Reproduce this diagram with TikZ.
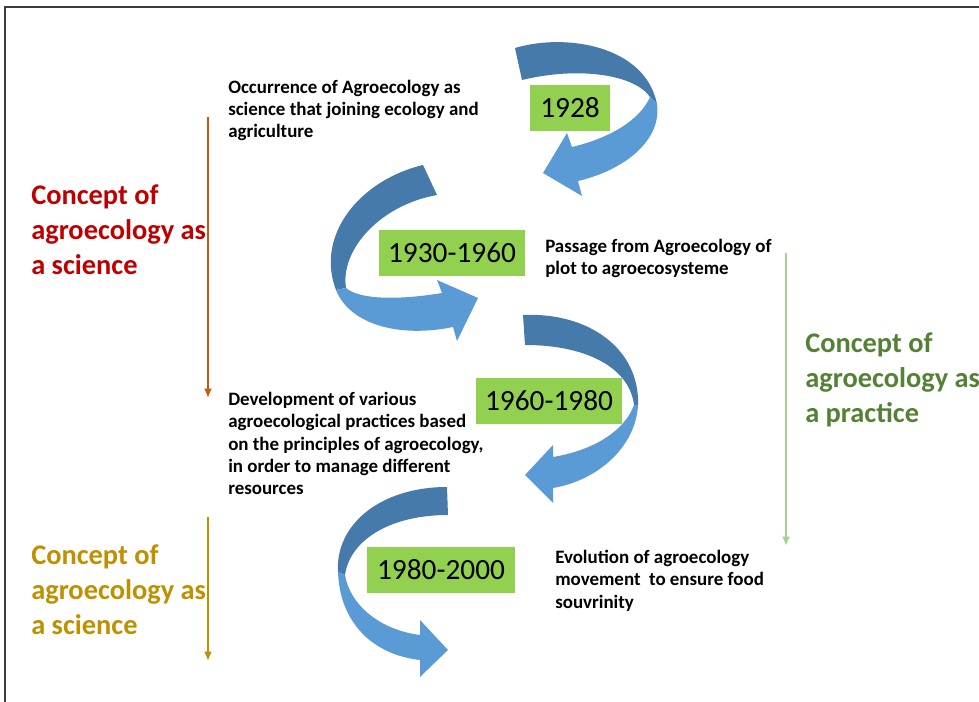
\documentclass[tikz,border=0pt]{standalone}
\usepackage{fontspec}
\setmainfont{Carlito}
\usetikzlibrary{arrows.meta}
\definecolor{arrdark}{RGB}{70,122,170}
\definecolor{arrlight}{RGB}{91,155,213}
\definecolor{yearfill}{RGB}{146,208,80}
\definecolor{sciencered}{RGB}{192,0,0}
\definecolor{practicegreen}{RGB}{84,130,53}
\definecolor{sciencegold}{RGB}{191,144,0}
\definecolor{lineorange}{RGB}{197,90,17}
\definecolor{linegreen}{RGB}{169,209,142}
\definecolor{framegray}{RGB}{60,60,60}
\begin{document}
\begin{tikzpicture}[x=0.75pt,y=-0.75pt,
  yearbox/.style={fill=yearfill,draw=none,inner sep=0pt,minimum height=34.5pt,
    font=\fontsize{22}{26}\selectfont,text=black},
  smalltext/.style={anchor=west,align=left,inner sep=0pt,
    font=\fontsize{14.2}{16.8}\selectfont\bfseries,text=black},
  bigtext/.style={anchor=west,align=left,inner sep=0pt,
    font=\fontsize{21.3}{26.25}\selectfont\bfseries},
  vline/.style={line width=1.5pt,-{Latex[length=7pt,width=6pt]}},
  darkpart/.style={fill=arrdark},
  lightpart/.style={fill=arrlight}]
\useasboundingbox (0,0) rectangle (979,702);
\fill[white] (0,0) rectangle (979,702);
% frame
\draw[framegray,line width=1.3pt] (5,702) -- (5,7) -- (979,7);

% arrow 1 (1928)
\fill[darkpart] (515,48) .. controls (565,33) and (645,45) .. (657,104) -- (650,97)
  .. controls (635,75) and (580,66) .. (522,80) -- cycle;
\fill[lightpart] (650,97) -- (657,104) .. controls (662,140) and (625,170) .. (578,181)
  -- (582,196) -- (543,173) -- (567,133) -- (572,147)
  .. controls (610,138) and (640,120) .. (650,97) -- cycle;

% arrow 2 (1930-1960)
\fill[darkpart] (423,165) .. controls (360,180) and (315,235) .. (336,290) -- (346,288)
  .. controls (340,250) and (380,205) .. (437,195) -- cycle;
\fill[lightpart] (336,290) .. controls (350,325) and (400,338) .. (453,327)
  -- (457,341) -- (478,298) -- (437,280) -- (442,293)
  .. controls (400,300) and (360,300) .. (346,288) -- cycle;

% arrow 3 (1960-1980)
\fill[darkpart] (523,315) .. controls (590,312) and (640,350) .. (638,405) -- (634,405)
  .. controls (630,370) and (590,345) .. (525,345) -- cycle;
\fill[lightpart] (638,405) .. controls (636,445) and (600,480) .. (553,488)
  -- (553,503) -- (525,475) -- (553,445) -- (553,457)
  .. controls (595,450) and (625,430) .. (634,405) -- cycle;

% arrow 4 (1980-2000)
\fill[darkpart] (447,487) .. controls (380,487) and (335,525) .. (338,572) -- (345,575)
  .. controls (350,540) and (390,515) .. (448,515) -- cycle;
\fill[lightpart] (338,572) .. controls (340,625) and (375,655) .. (420,660)
  -- (420,677) -- (448,650) -- (420,620) -- (420,635)
  .. controls (380,630) and (350,605) .. (345,575) -- cycle;

% year boxes
\node[yearbox,minimum width=60pt] (y1928) at (570,108) {1928};
\node[yearbox,minimum width=110pt] (y1930) at (452,253) {1930-1960};
\node[yearbox,minimum width=109pt] (y1960) at (549,401) {1960-1980};
\node[yearbox,minimum width=111pt] (y1980) at (441,570) {1980-2000};

% descriptive texts
\node[smalltext] (occ) at (228,110.5) {Occurrence of Agroecology as\\science that joining ecology and\\agriculture};
\node[smalltext] (pas) at (545,258.5) {Passage from Agroecology of\\plot to agroecosysteme};
\node[smalltext] (dev) at (228,443.5) {Development of various\\agroecological practices based\\on the principles of agroecology,\\in order to manage different\\resources};
\node[smalltext] (evo) at (555,580.5) {Evolution of agroecology\\movement~ to ensure food\\souvrinity};

% concept labels
\node[bigtext,text=sciencered] (sci1) at (31,230) {Concept of\\agroecology as\\a science};
\node[bigtext,text=practicegreen] (prac) at (805,380) {Concept of\\agroecology as\\a practice};
\node[bigtext,text=sciencegold] (sci2) at (31,590) {Concept of\\agroecology as\\a science};

% vertical arrows
\coordinate (o1) at (208,117);
\coordinate (o2) at (208,398);
\coordinate (g1) at (786,253);
\coordinate (g2) at (786,546);
\coordinate (d1) at (208,517);
\coordinate (d2) at (208,661);
\draw[vline,lineorange] (o1) -- (o2);
\draw[vline,linegreen] (g1) -- (g2);
\draw[vline,sciencegold] (d1) -- (d2);
\end{tikzpicture}
\end{document}
